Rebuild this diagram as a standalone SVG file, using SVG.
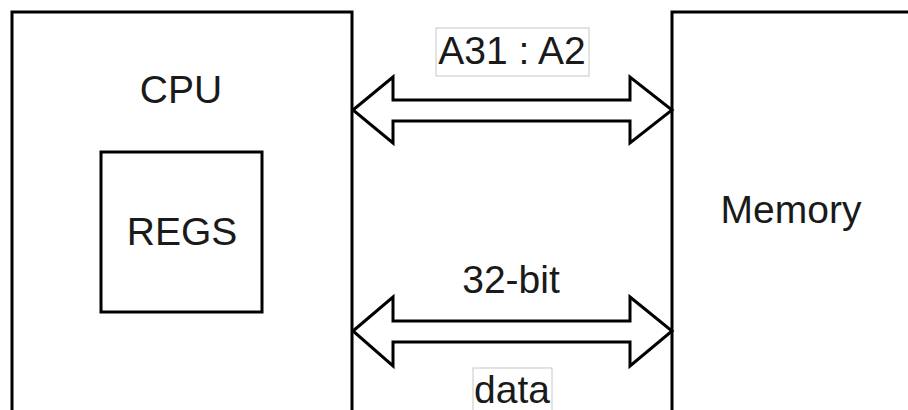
<svg xmlns="http://www.w3.org/2000/svg" width="908" height="410" viewBox="0 0 908 410">
<style>
.box{fill:#fff;stroke:#000;stroke-width:3}
.arr{fill:#fff;stroke:#000;stroke-width:3;stroke-linejoin:miter}
.lbl{fill:#fff;stroke:#c8c8c8;stroke-width:1}
text{font-family:"Liberation Sans",Arial,sans-serif;font-size:39px;fill:#1a1a1a;text-anchor:middle}
</style>
<rect width="908" height="410" fill="#fff"/>
<g id="cpu">
<rect class="box" x="12" y="12" width="340" height="420"/>
<text x="181" y="103">CPU</text>
</g>
<g id="regs">
<rect class="box" x="101" y="152" width="161" height="160"/>
<text x="182" y="245">REGS</text>
</g>
<g id="memory">
<rect class="box" x="672" y="12" width="260" height="420"/>
<text x="791" y="223">Memory</text>
</g>
<g id="connectors">
<polygon class="arr" points="353,110 393,77 393,100 630,100 630,77 672,110 630,143 630,121 393,121 393,143"/>
<polygon class="arr" points="353,331 393,297 393,321 630,321 630,297 672,331 630,366 630,342 393,342 393,366"/>
<rect class="lbl" x="436" y="28" width="153" height="48"/>
<text x="512" y="64">A31 : A2</text>
<text x="511" y="293">32-bit</text>
<rect class="lbl" x="473" y="368" width="79" height="50"/>
<text x="512" y="403">data</text>
</g>
</svg>
